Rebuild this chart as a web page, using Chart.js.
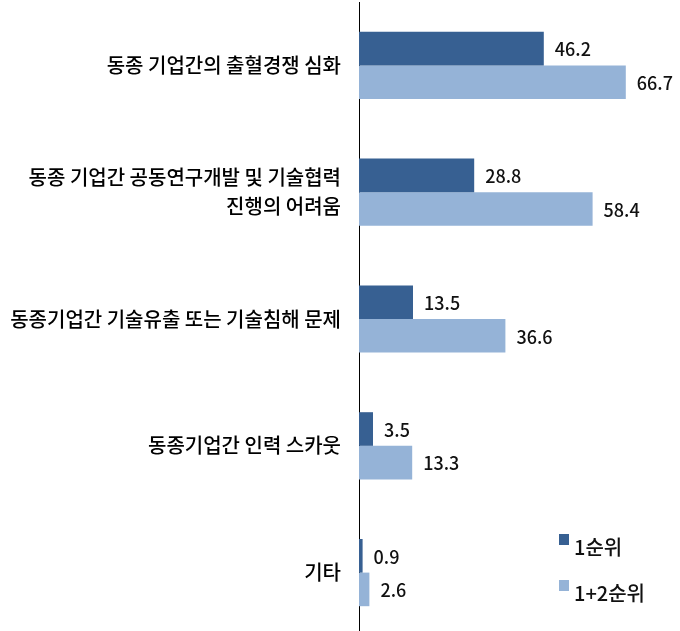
<!DOCTYPE html>
<html lang="ko">
<head>
<meta charset="utf-8">
<script src="https://cdn.jsdelivr.net/npm/chart.js@4.4.1/dist/chart.umd.min.js"></script>
<style>
    html, body { margin: 0; padding: 0; background: #fff; overflow: hidden; }
    #wrap { position: relative; width: 680px; height: 640px; }
    #legend { position: absolute; left: 559px; top: 534px; font: 500 20px "Noto Sans CJK KR", sans-serif; color: #111; }
    #legend .item { position: absolute; left: 0; white-space: nowrap; }
    #legend .box { position: absolute; left: 0; top: 0; width: 10px; height: 11px; }
    #legend .txt { position: absolute; left: 15px; top: -1px; line-height: 28px; }
</style>
</head>
<body>
<div id="wrap">
    <canvas id="chart"></canvas>
    <div id="legend"></div>
</div>
<script>
const categories = [
    '동종 기업간의 출혈경쟁 심화',
    ['동종 기업간 공동연구개발 및 기술협력', '진행의 어려움'],
    '동종기업간 기술유출 또는 기술침해 문제',
    '동종기업간 인력 스카웃',
    '기타'
];
const seriesNames = ['1순위', '1+2순위'];
const rank1 = [46.2, 28.8, 13.5, 3.5, 0.9];
const rank12 = [66.7, 58.4, 36.6, 13.3, 2.6];
const colors = ['#376092', '#95B3D7'];

const fontName = '"Noto Sans CJK KR", "Noto Sans", sans-serif';

// value text just past the end of each bar
const valueLabels = {
    id: 'valueLabels',
    afterDatasetsDraw(chart) {
        const ctx = chart.ctx;
        ctx.save();
        ctx.font = '500 18px ' + fontName;
        ctx.fillStyle = '#111';
        ctx.textAlign = 'left';
        ctx.textBaseline = 'middle';
        chart.data.datasets.forEach((ds, i) => {
            chart.getDatasetMeta(i).data.forEach((bar, j) => {
                ctx.fillText(ds.data[j].toFixed(1), bar.x + 11, bar.y + 1);
            });
        });
        ctx.restore();
    }
};

new Chart(document.getElementById('chart'), {
    type: 'bar',
    data: {
        labels: categories,
        datasets: [
            { label: seriesNames[0], data: rank1, backgroundColor: colors[0] },
            { label: seriesNames[1], data: rank12, backgroundColor: colors[1] }
        ]
    },
    options: {
        indexAxis: 'y',
        responsive: true,
        maintainAspectRatio: false,
        animation: false,
        layout: { padding: { top: 2, bottom: 4, left: 0, right: 1 } },
        datasets: { bar: { categoryPercentage: 0.53, barPercentage: 1.0 } },
        plugins: {
            legend: { display: false },
            tooltip: { enabled: false }
        },
        scales: {
            x: { display: false, min: 0, max: 80 },
            y: {
                afterFit(scale) {
                    scale.width = 359;
                    scale.paddingTop = 0;
                    scale.paddingBottom = 0;
                },
                grid: { display: false, drawTicks: false },
                border: { display: true, color: '#000', width: 1 },
                ticks: {
                    color: '#000',
                    padding: 18,
                    font: { family: fontName, size: 20, weight: 500, lineHeight: 1.45 }
                }
            }
        }
    },
    plugins: [valueLabels]
});

const legendEl = document.getElementById('legend');
seriesNames.forEach((name, i) => {
    const item = document.createElement('div');
    item.className = 'item';
    item.style.top = (i * 46) + 'px';
    item.innerHTML = '<span class="box" style="background:' + colors[i] + '"></span><span class="txt">' + name + '</span>';
    legendEl.appendChild(item);
});
</script>
</body>
</html>
